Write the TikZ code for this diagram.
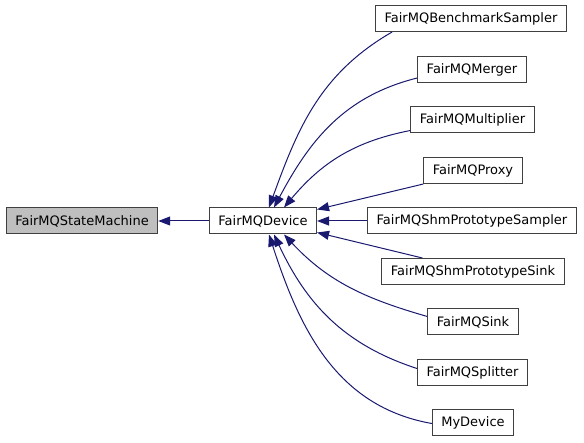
\documentclass[tikz,border=0pt]{standalone}
\usepackage{fontspec}
\setmainfont{DejaVu Sans}
\usetikzlibrary{arrows.meta}
\definecolor{frame}{HTML}{404040}
\definecolor{shade}{HTML}{BFBFBF}
\definecolor{navy}{HTML}{191970}

\begin{document}
\begin{tikzpicture}[x=1pt, y=-1pt, font=\fontsize{13}{15}\selectfont,
    cls/.style={draw=frame, line width=1pt, fill=white, minimum height=26pt, inner xsep=9pt, inner ysep=0pt},
    root/.style={cls, fill=shade},
    inherit/.style={-{Triangle[length=12pt, width=9pt]}, line width=1pt, draw=navy},
  ]
% --- Frame ------------------------------------------------------------------------
\useasboundingbox (0,0) rectangle (584,443);

% --- Classes ----------------------------------------------------------------------
\node[root] (sm) at (82,221) {FairMQStateMachine};
\node[cls] (dev) at (263,221) {FairMQDevice};
\node[cls] (bench) at (471,18.5) {FairMQBenchmarkSampler};
\node[cls] (merger) at (472,69.5) {FairMQMerger};
\node[cls] (mult) at (472.5,120) {FairMQMultiplier};
\node[cls] (proxy) at (473,170.5) {FairMQProxy};
\node[cls] (shmsampler) at (472,221) {FairMQShmPrototypeSampler};
\node[cls] (shmsink) at (473,271.5) {FairMQShmPrototypeSink};
\node[cls] (sink) at (473,322) {FairMQSink};
\node[cls] (splitter) at (472.5,373) {FairMQSplitter};
\node[cls] (mydev) at (473,423) {MyDevice};

% --- Inheritance (arrow at the base class) ----------------------------------------
\draw[inherit] (dev) -- (sm);
\draw[inherit] ([xshift=17pt]bench.south west) to[out=210, in=70] ([xshift=6pt]dev.north);
\draw[inherit] ([yshift=5pt]merger.south west) to[out=194, in=62] ([xshift=11pt]dev.north);
\draw[inherit] ([yshift=3pt]mult.south west) to[out=191, in=50] ([xshift=21pt]dev.north);
\draw[inherit] (proxy.south west) -- ([yshift=-2pt]dev.north east);
\draw[inherit] (shmsampler) -- (dev);
\draw[inherit] ([xshift=41pt]shmsink.north west) -- ([yshift=2pt]dev.south east);
\draw[inherit] ([yshift=-8pt]sink.north west) to[out=164, in=-47] ([xshift=21pt]dev.south);
\draw[inherit] ([yshift=-9pt]splitter.north west) to[out=162, in=-65] ([xshift=11pt]dev.south);
\draw[inherit] ([yshift=-14pt]mydev.north west) to[out=170, in=-72] ([xshift=6pt]dev.south);
\end{tikzpicture}
\end{document}
